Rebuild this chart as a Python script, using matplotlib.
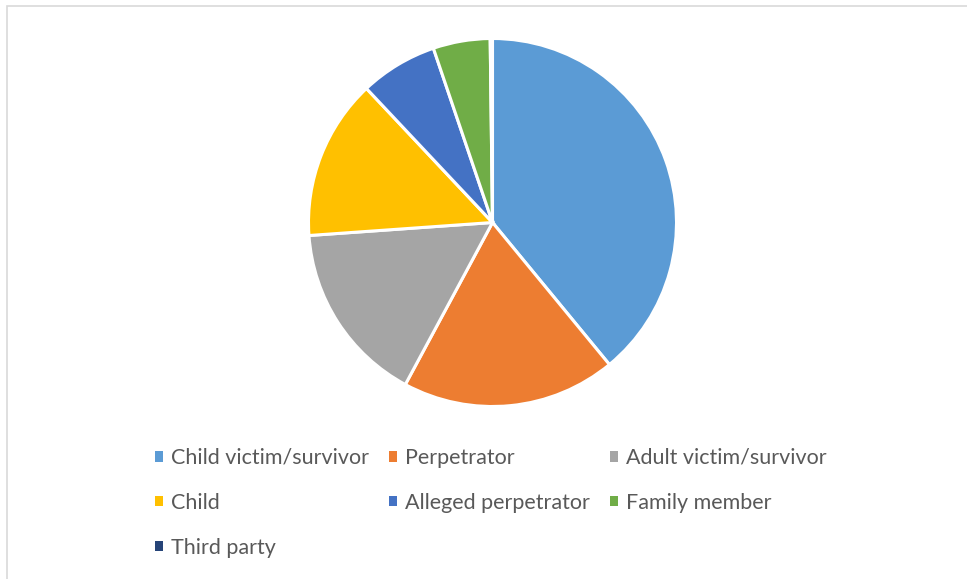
import matplotlib.pyplot as plt
from matplotlib.patches import Patch, Rectangle

# Share of cases by role (percent)
labels = ["Child victim/survivor", "Perpetrator", "Adult victim/survivor",
          "Child", "Alleged perpetrator", "Family member", "Third party"]
shares = [39.0, 18.8, 16.0, 14.1, 6.8, 5.0, 0.2]
colors = ["#5B9BD5", "#ED7D31", "#A5A5A5", "#FFC000",
          "#4472C4", "#70AD47", "#264478"]

W, H = 967, 579
fig = plt.figure(figsize=(W / 100, H / 100), dpi=100)

# light chart-area frame (top and left edges show)
fig.add_artist(Rectangle((6.5 / W, -0.1), 1.2, (H - 6.5) / H + 0.1,
                         transform=fig.transFigure, fill=False,
                         edgecolor="#D9D9D9", linewidth=1.2))

cx, cy, r = 492.5, 222.5, 184
ax = fig.add_axes([(cx - r) / W, (H - cy - r) / H, 2 * r / W, 2 * r / H])
ax.pie(shares, colors=colors, startangle=90, counterclock=False,
       radius=1, wedgeprops=dict(edgecolor="white", linewidth=2.2))
ax.set_xlim(-1, 1)
ax.set_ylim(-1, 1)
ax.set_aspect("equal")
ax.axis("off")

# legend laid out row by row across three columns
handles = [Patch(facecolor=c, edgecolor="none") for c in colors]
order = [0, 3, 6, 1, 4, 2, 5]
leg = fig.legend([handles[i] for i in order], [labels[i] for i in order],
                 ncol=3, loc="upper left", bbox_to_anchor=(155 / W, 1 - 448 / H),
                 frameon=False, prop={"family": "Lato", "size": 15.5},
                 borderpad=0, borderaxespad=0,
                 handlelength=0.38, handleheight=0.38, handletextpad=0.35,
                 columnspacing=0.95, labelspacing=1.15, labelcolor="#595959")

fig.savefig("out.png", dpi=100, facecolor="white")
